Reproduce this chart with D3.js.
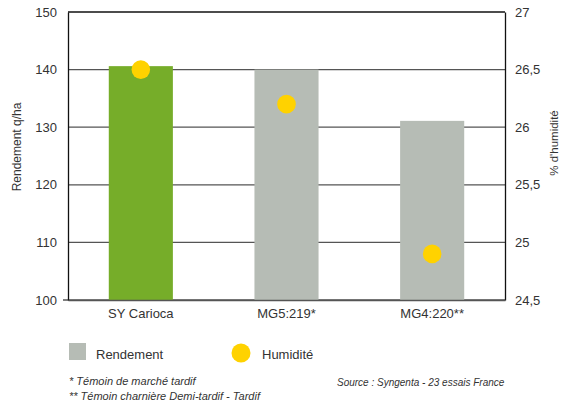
<!DOCTYPE html>
<html>
<head>
<meta charset="utf-8">
<script src="https://cdn.jsdelivr.net/npm/d3@7"></script>
<style>
  body { margin: 0; background: #fff; }
  svg text { font-family: "Liberation Sans", Arial, sans-serif; fill: #333; }
</style>
</head>
<body>
<svg id="chart" width="562" height="403"></svg>
<script>
// values
var categories = ["SY Carioca", "MG5:219*", "MG4:220**"];
var rendement = [140.6, 140.0, 131.1];
var humidite = [26.5, 26.2, 24.9];
var leftTicks = [100, 110, 120, 130, 140, 150];
var rightTicks = [24.5, 25, 25.5, 26, 26.5, 27];
var barColors = ["#76ad29", "#b6bcb5", "#b6bcb5"];
var footnotes = ["* Témoin de marché tardif", "** Témoin charnière Demi-tardif - Tardif"];

(function() {
    var svg = d3.select("#chart");
    var mLeft = 68, mRight = 505, mTop = 12, mBottom = 300;

    var x = d3.scaleBand().domain(categories).range([mLeft, mRight])
        .paddingInner(0.56).paddingOuter(0.28);
    var yL = d3.scaleLinear().domain([100, 150]).range([mBottom, mTop]);
    var yR = d3.scaleLinear().domain([24.5, 27]).range([mBottom, mTop]);

    // gridlines
    svg.append("g").selectAll("line").data(leftTicks).join("line")
        .attr("x1", function(d) { return d === 100 ? mLeft - 5 : mLeft; }).attr("x2", mRight)
        .attr("y1", function(d) { return yL(d); }).attr("y2", function(d) { return yL(d); })
        .attr("stroke", function(d) { return d === 150 ? "#111" : "#555"; })
        .attr("stroke-width", 1.3);

    // bars
    svg.append("g").selectAll("rect").data(rendement).join("rect")
        .attr("x", function(d, i) { return x(categories[i]); })
        .attr("width", x.bandwidth())
        .attr("y", function(d) { return yL(d); })
        .attr("height", function(d) { return mBottom - yL(d); })
        .attr("fill", function(d, i) { return barColors[i]; });

    // humidity dots
    svg.append("g").selectAll("circle").data(humidite).join("circle")
        .attr("cx", function(d, i) { return x(categories[i]) + x.bandwidth() / 2; })
        .attr("cy", function(d) { return yR(d); })
        .attr("r", 9.3)
        .attr("fill", "#ffd200");

    // axes
    var axL = svg.append("g").attr("transform", "translate(" + mLeft + ",0)")
        .call(d3.axisLeft(yL).tickValues(leftTicks).tickSize(0).tickPadding(11));
    var axR = svg.append("g").attr("transform", "translate(" + mRight + ",0)")
        .call(d3.axisRight(yR).tickValues(rightTicks).tickSize(0).tickPadding(10)
            .tickFormat(function(d) { return String(d).replace(".", ","); }));
    var axB = svg.append("g").attr("transform", "translate(0," + mBottom + ")")
        .call(d3.axisBottom(x).tickSize(0).tickPadding(9));

    [axL, axR, axB].forEach(function(ax) {
        ax.select(".domain").attr("stroke", "#111").attr("stroke-width", 1.3);
        ax.selectAll("text").style("font-size", "13px").attr("fill", "#333")
            .style("font-family", "'Liberation Sans', Arial, sans-serif");
    });
    axB.select(".domain").attr("stroke", "#555");

    // axis titles
    svg.append("text")
        .attr("transform", "translate(21,147) rotate(-90)")
        .attr("text-anchor", "middle").style("font-size", "12px")
        .text("Rendement q/ha");
    svg.append("text")
        .attr("transform", "translate(558,143) rotate(-90)")
        .attr("text-anchor", "middle").style("font-size", "11.5px")
        .text("% d'humidité");

    // legend
    var legend = svg.append("g");
    legend.append("rect").attr("x", 69).attr("y", 343).attr("width", 17).attr("height", 17)
        .attr("fill", barColors[1]);
    legend.append("text").attr("x", 96).attr("y", 359).style("font-size", "13px").text("Rendement");
    legend.append("circle").attr("cx", 241).attr("cy", 353).attr("r", 9.5).attr("fill", "#ffd200");
    legend.append("text").attr("x", 262).attr("y", 359).style("font-size", "13px").text("Humidité");

    // footnotes
    svg.append("g").selectAll("text").data(footnotes).join("text")
        .attr("x", 69).attr("y", function(d, i) { return 385 + i * 15; })
        .style("font-size", "11px").style("font-style", "italic")
        .text(function(d) { return d; });
    svg.append("text").attr("x", 337).attr("y", 386)
        .style("font-size", "10px").style("font-style", "italic")
        .text("Source : Syngenta - 23 essais France");
})();
</script>
</body>
</html>
